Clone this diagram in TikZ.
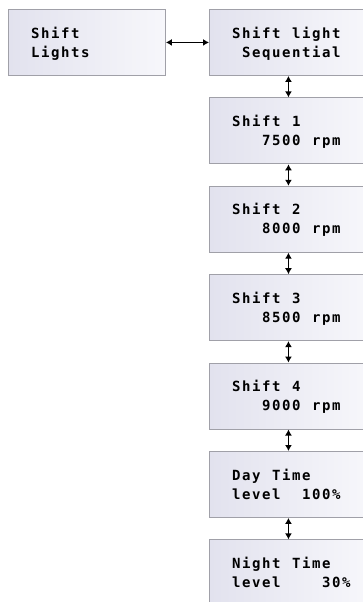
\documentclass[tikz,border=0pt]{standalone}
\usepackage{fontspec}
\usepackage{tikz}
\usetikzlibrary{arrows.meta}
\newfontfamily\lcdfont{DejaVu Sans Mono}[LetterSpace=11.2]
\newcommand{\lcdsp}{\hspace{11.57pt}}
\definecolor{boxleft}{RGB}{226, 226, 238}
\definecolor{boxright}{RGB}{247, 247, 251}
\definecolor{boxline}{RGB}{160, 160, 168}
\tikzset{
  menubox/.style={draw=boxline, line width=0.9pt, left color=boxleft, right color=boxright,
    minimum width=158pt, minimum height=66pt, anchor=north west, inner sep=0pt},
  lcdtext/.style={anchor=base west, inner sep=0pt, font=\lcdfont\bfseries\fontsize{14}{19}\selectfont},
  link/.style={{Latex[length=6pt,width=7pt]}-{Latex[length=6pt,width=7pt]}, line width=1.3pt}
}

\begin{document}
\begin{tikzpicture}[x=1pt, y=-1pt]
		\useasboundingbox (0,0) rectangle (363,602);

		% left menu entry
		\node[menubox, minimum width=157pt] (lights) at (8,9) {};
		\node[lcdtext] (lightsA) at (31,38) {Shift};
		\node[lcdtext] (lightsB) at (31,57) {Lights};

		% column of sub menu entries
		\node[menubox] (seq) at (209,9) {};
		\node[lcdtext] (seqA) at (232,38) {Shift\lcdsp light};
		\node[lcdtext] (seqB) at (242,57) {Sequential};

		\node[menubox] (shiftA) at (209,97.4) {};
		\node[lcdtext] (shiftAa) at (232,126.4) {Shift\lcdsp 1};
		\node[lcdtext] (shiftAb) at (262,145.4) {7500\lcdsp rpm};

		\node[menubox] (shiftB) at (209,185.8) {};
		\node[lcdtext] (shiftBa) at (232,214.8) {Shift\lcdsp 2};
		\node[lcdtext] (shiftBb) at (262,233.8) {8000\lcdsp rpm};

		\node[menubox] (shiftC) at (209,274.2) {};
		\node[lcdtext] (shiftCa) at (232,303.2) {Shift\lcdsp 3};
		\node[lcdtext] (shiftCb) at (262,322.2) {8500\lcdsp rpm};

		\node[menubox] (shiftD) at (209,362.6) {};
		\node[lcdtext] (shiftDa) at (232,391.6) {Shift\lcdsp 4};
		\node[lcdtext] (shiftDb) at (262,410.6) {9000\lcdsp rpm};

		\node[menubox] (day) at (209,451) {};
		\node[lcdtext] (dayA) at (232,480) {Day\lcdsp Time};
		\node[lcdtext] (dayB) at (232,499) {level\lcdsp\hspace{10pt}100\%};

		\node[menubox] (night) at (209,539.4) {};
		\node[lcdtext] (nightA) at (232,568.4) {Night\lcdsp Time};
		\node[lcdtext] (nightB) at (232,587.4) {level\lcdsp\hspace{30pt}30\%};

		% connectors
		\draw[link] (lights.east) -- (seq.west);
		\draw[link] (seq.south) -- (shiftA.north);
		\draw[link] (shiftA.south) -- (shiftB.north);
		\draw[link] (shiftB.south) -- (shiftC.north);
		\draw[link] (shiftC.south) -- (shiftD.north);
		\draw[link] (shiftD.south) -- (day.north);
		\draw[link] (day.south) -- (night.north);
	\end{tikzpicture}
\end{document}
